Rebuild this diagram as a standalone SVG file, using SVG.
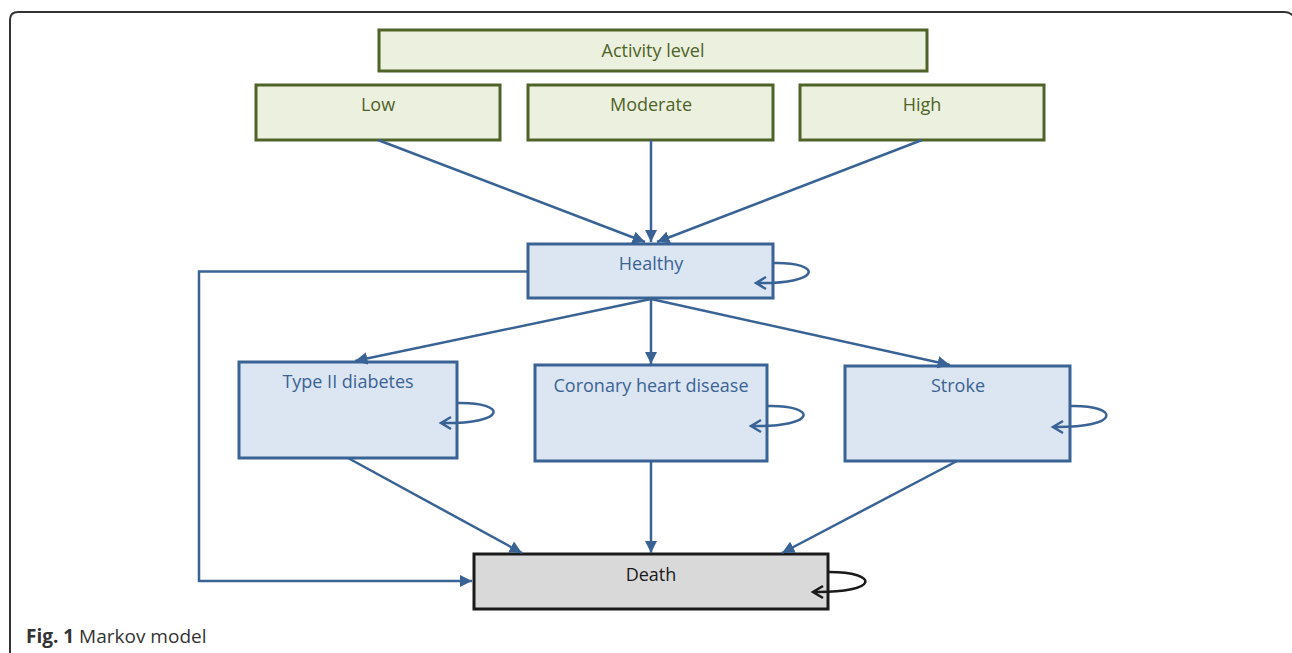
<svg xmlns="http://www.w3.org/2000/svg" width="1292" height="653" viewBox="0 0 1292 653">
<style>
.green rect{fill:#EBF1DE;stroke:#4F6228;stroke-width:3}
.green text{fill:#4F6228}
.blue rect{fill:#DCE6F2;stroke:#3A6395;stroke-width:3}
.blue text{fill:#3A6395}
.grey rect{fill:#D9D9D9;stroke:#1a1a1a;stroke-width:3}
.grey text{fill:#1a1a1a}
text{font-family:"Open Sans","Liberation Sans",sans-serif;font-size:18px;text-anchor:middle}
.conn path{fill:none;stroke:#3A6395;stroke-width:2.5}
.loop{fill:none;stroke:#3A6395;stroke-width:2.5}
.loopk{fill:none;stroke:#1a1a1a;stroke-width:2.5}
</style>
<defs>
<marker id="ah" viewBox="0 0 10 10" refX="10" refY="5" markerWidth="5" markerHeight="5" orient="auto" markerUnits="strokeWidth">
<path d="M0,0 L10,5 L0,10 Z" fill="#3A6395"/>
</marker>
</defs>
<path d="M10,653 L10,20 Q10,12 18,12 L1284,12 Q1292,12 1296,20" fill="none" stroke="#333" stroke-width="2"/>
<g id="activity" class="green"><rect x="379" y="30" width="548" height="41"/><text x="653" y="57">Activity level</text></g>
<g id="low" class="green"><rect x="256" y="85" width="244" height="55"/><text x="378" y="111">Low</text></g>
<g id="moderate" class="green"><rect x="528" y="85" width="245" height="55"/><text x="651" y="111">Moderate</text></g>
<g id="high" class="green"><rect x="800" y="85" width="244" height="55"/><text x="922" y="111">High</text></g>
<g id="healthy" class="blue"><rect x="528" y="244" width="245" height="54"/><text x="651" y="270">Healthy</text>
<path class="loop" d="M774,263 C822,262 824,284 756,283 M766,277 L756,283 L766,289"/></g>
<g id="diabetes" class="blue"><rect x="239" y="362" width="218" height="96"/><text x="348" y="388">Type II diabetes</text>
<path class="loop" d="M458,403 C507,402 509,424 441,423 M451,417 L441,423 L451,429"/></g>
<g id="chd" class="blue"><rect x="535" y="365" width="232" height="96"/><text x="651" y="392">Coronary heart disease</text>
<path class="loop" d="M768,406 C817,405 819,427 751,426 M761,420 L751,426 L761,432"/></g>
<g id="stroke" class="blue"><rect x="845" y="366" width="225" height="95"/><text x="958" y="392">Stroke</text>
<path class="loop" d="M1071,406 C1120,405 1122,428 1053,427 M1063,421 L1053,427 L1063,433"/></g>
<g id="death" class="grey"><rect x="474" y="554" width="354" height="55"/><text x="651" y="581">Death</text>
<path class="loopk" d="M829,572 C879,572 881,593 813,592 M823,586 L813,592 L823,598"/></g>
<g class="conn">
<path d="M378,140 L645,242" marker-end="url(#ah)"/>
<path d="M651,140 L651,242" marker-end="url(#ah)"/>
<path d="M922,140 L657,242" marker-end="url(#ah)"/>
<path d="M651,299 L355,361" marker-end="url(#ah)"/>
<path d="M651,299 L651,364" marker-end="url(#ah)"/>
<path d="M651,299 L950,365" marker-end="url(#ah)"/>
<path d="M348,458 L522,553" marker-end="url(#ah)"/>
<path d="M651,461 L651,553" marker-end="url(#ah)"/>
<path d="M957,461 L782,553" marker-end="url(#ah)"/>
<path d="M528,271.5 L199,271.5 L199,581 L472,581" marker-end="url(#ah)"/>
</g>
<text x="26" y="643" style="text-anchor:start;font-size:19px;fill:#333"><tspan font-weight="bold">Fig. 1</tspan> Markov model</text>
</svg>
